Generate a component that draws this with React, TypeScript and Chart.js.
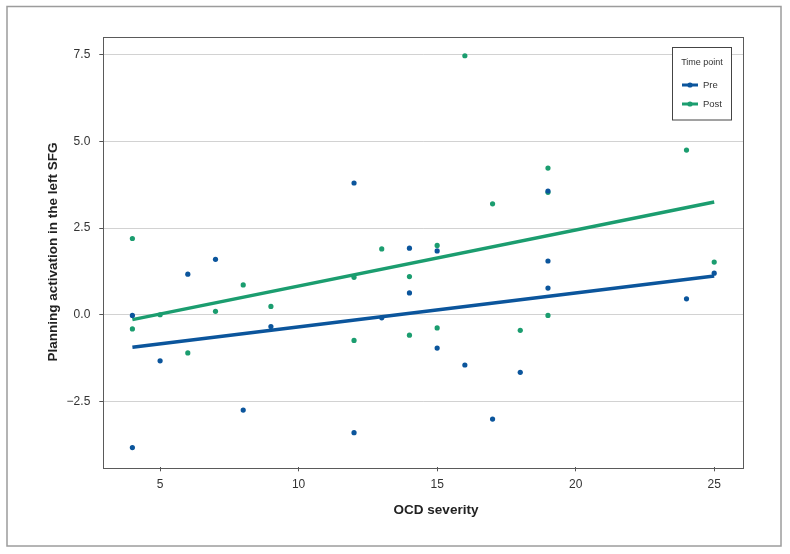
import React, { useEffect, useRef } from "react";
import { Chart, registerables } from "chart.js";

Chart.register(...registerables);

// ---- data ----
const ocdSeverity = [4, 4, 5, 6, 7, 8, 9, 12, 12, 13, 14, 14, 15, 15, 16, 17, 18, 19, 19, 19, 24, 25];
const preActivation = [-0.02, -3.83, -1.33, 1.17, 1.6, -2.75, -0.34, 3.8, -3.4, -0.09, 1.92, 0.63, 1.84, -0.96, -1.45, -3.01, -1.66, 3.57, 1.55, 0.77, 0.46, 1.2];
const postActivation = [2.2, -0.41, 0.0, -1.1, 0.1, 0.86, 0.24, 1.08, -0.74, 1.9, 1.1, -0.59, 2.0, -0.38, 7.47, 3.2, -0.45, 4.23, 3.53, -0.02, 4.75, 1.52];
const fitX = [4, 25];
const preFit = [-0.94, 1.12];
const postFit = [-0.14, 3.25];
const xTicks = [5, 10, 15, 20, 25];
const yTicks = [-2.5, 0, 2.5, 5, 7.5];
const seriesNames = ["Pre", "Post"];
const xTitle = "OCD severity";
const yTitle = "Planning activation in the left SFG";
const legendTitle = "Time point";

const BLUE = "#0b559c";
const GREEN = "#1b9d6f";
const FONT = "'Liberation Sans', Arial, sans-serif";

const framePlugin = {
  id: "frame",
  beforeDraw(chart: any) {
    const ctx = chart.ctx;
    ctx.save();
    ctx.fillStyle = "#ffffff";
    ctx.fillRect(0, 0, chart.width, chart.height);
    ctx.strokeStyle = "#9c9c9c";
    ctx.lineWidth = 1.5;
    ctx.strokeRect(7, 6.5, 774, 539.5);
    ctx.restore();
  },
  beforeDatasetsDraw(chart: any) {
    const { ctx, chartArea } = chart;
    ctx.save();
    ctx.strokeStyle = "#5a5a5a";
    ctx.lineWidth = 1;
    ctx.strokeRect(
      Math.round(chartArea.left) + 0.5,
      Math.round(chartArea.top) + 0.5,
      Math.round(chartArea.right - chartArea.left),
      Math.round(chartArea.bottom - chartArea.top)
    );
    ctx.restore();
  },
  afterDraw(chart: any) {
    const ctx = chart.ctx;
    ctx.save();
    // x axis title
    ctx.fillStyle = "#222222";
    ctx.font = `bold 13.5px ${FONT}`;
    ctx.textAlign = "center";
    ctx.textBaseline = "middle";
    ctx.fillText(xTitle, 436, 510);
    // legend box
    ctx.fillStyle = "#ffffff";
    ctx.fillRect(672.5, 47.5, 59, 72.5);
    ctx.strokeStyle = "#444444";
    ctx.lineWidth = 1;
    ctx.strokeRect(672.5, 47.5, 59, 72.5);
    ctx.fillStyle = "#333333";
    ctx.font = `9px ${FONT}`;
    ctx.textAlign = "center";
    ctx.textBaseline = "middle";
    ctx.fillText(legendTitle, 702, 63);
    const colors = [BLUE, GREEN];
    const ys = [85, 104];
    seriesNames.forEach((name, i) => {
      const y = ys[i];
      ctx.strokeStyle = colors[i];
      ctx.lineWidth = 3;
      ctx.beginPath();
      ctx.moveTo(682, y);
      ctx.lineTo(698, y);
      ctx.stroke();
      ctx.fillStyle = colors[i];
      ctx.beginPath();
      ctx.arc(690, y, 2.6, 0, Math.PI * 2);
      ctx.fill();
      ctx.fillStyle = "#333333";
      ctx.font = `9.5px ${FONT}`;
      ctx.textAlign = "left";
      ctx.fillText(name, 703, y);
    });
    ctx.restore();
  },
};

export default function App() {
  const ref = useRef<HTMLCanvasElement | null>(null);

  useEffect(() => {
    if (!ref.current) return;
    const pts = (ys: number[]) => ocdSeverity.map((x, i) => ({ x, y: ys[i] }));
    const fit = (ys: number[]) => fitX.map((x, i) => ({ x, y: ys[i] }));
    const chart = new Chart(ref.current, {
      type: "scatter",
      data: {
        datasets: [
          { label: seriesNames[0], data: pts(preActivation), backgroundColor: BLUE, borderWidth: 0, pointRadius: 2.6, order: 0 } as any,
          { label: seriesNames[1], data: pts(postActivation), backgroundColor: GREEN, borderWidth: 0, pointRadius: 2.6, order: 0 } as any,
          { type: "line", label: "Pre fit", data: fit(preFit), borderColor: BLUE, borderWidth: 3.5, pointRadius: 0, fill: false, order: 1 } as any,
          { type: "line", label: "Post fit", data: fit(postFit), borderColor: GREEN, borderWidth: 3.5, pointRadius: 0, fill: false, order: 1 } as any,
        ],
      },
      options: {
        animation: false,
        responsive: false,
        layout: { padding: { left: 0, top: 36.7, right: 46.7, bottom: 0 } },
        plugins: { legend: { display: false }, tooltip: { enabled: false } },
        scales: {
          x: {
            type: "linear",
            min: 2.95,
            max: 26.05,
            afterBuildTicks: (s: any) => {
              s.ticks = xTicks.map((v) => ({ value: v }));
            },
            afterFit: (s: any) => {
              s.height = 86.7;
            },
            grid: { drawOnChartArea: false, tickLength: 4, tickColor: "#555555", color: "#555555" },
            border: { display: false },
            ticks: { color: "#333333", font: { size: 12, family: FONT }, padding: 6, maxRotation: 0, autoSkip: false },
            title: { display: false },
          },
          y: {
            type: "linear",
            min: -4.4,
            max: 8.02,
            afterBuildTicks: (s: any) => {
              s.ticks = yTicks.map((v) => ({ value: v }));
            },
            afterFit: (s: any) => {
              s.width = 103.3;
            },
            grid: { color: "#d2d2d2", lineWidth: 1, tickLength: 4, tickColor: "#555555" },
            border: { display: false },
            ticks: {
              color: "#333333",
              font: { size: 12, family: FONT },
              padding: 9,
              callback: (v: any) => Number(v).toFixed(1).replace("-", "\u2212"),
            },
            title: {
              display: true,
              text: yTitle,
              color: "#222222",
              font: { size: 13.5, weight: "bold", family: FONT },
              padding: { top: 45, bottom: 0 },
            },
          },
        },
      },
      plugins: [framePlugin],
    });
    return () => chart.destroy();
  }, []);

  return (
    <div style={{ position: "absolute", left: 0, top: 0, width: 790, height: 554, background: "#fff" }}>
      <canvas ref={ref} width={790} height={554} />
    </div>
  );
}
